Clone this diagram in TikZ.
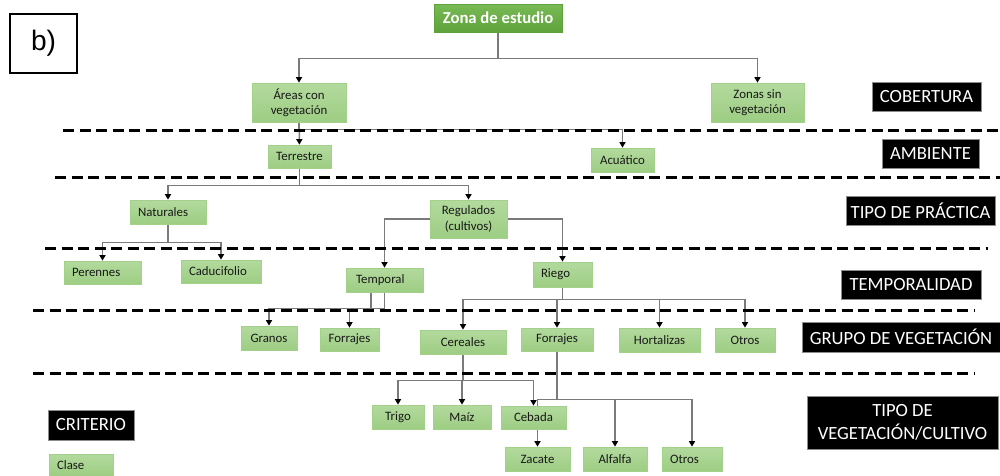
\documentclass[tikz,border=0pt]{standalone}
\usepackage{fontspec}
\setmainfont{Carlito}
\newfontfamily\arialfont{Liberation Sans}
\usepackage{tikz}
\usetikzlibrary{arrows.meta, backgrounds}
\definecolor{clstop}{HTML}{B3DA9E}
\definecolor{clsbot}{HTML}{9DCD83}
\definecolor{clsline}{HTML}{A3D18A}
\definecolor{roottop}{HTML}{78BA55}
\definecolor{rootbot}{HTML}{5EA23B}
\definecolor{connline}{HTML}{7A7A7A}
\tikzset{
    cls/.style={
        rectangle, draw=clsline,
        top color=clstop, bottom color=clsbot,
        text=black!90, inner sep=0pt, align=center,
        font=\fontsize{7.3}{8.8}\selectfont
    },
    lft/.style={
        align=left, inner xsep=1.6mm, text width=#1mm
    },
    root/.style={
        cls, draw=rootbot,
        top color=roottop, bottom color=rootbot,
        text=white, font=\bfseries\fontsize{9.5}{11}\selectfont
    },
    crit/.style={
        rectangle, fill=black, draw=black!45,
        text=white, inner sep=0pt, align=center,
        font=\fontsize{10.6}{13}\selectfont
    },
    sz/.style 2 args={minimum width=#1mm, minimum height=#2mm},
    conn/.style={
        draw=connline, line width=0.3mm,
        -{Triangle[length=1.1mm, width=1.2mm, color=black]},
    },
    level/.style={
        black, line width=0.6mm,
        dash pattern=on 2.2mm off 1.1mm
    },
}
\begin{document}
\begin{tikzpicture}[x=0.2mm, y=-0.2mm]
        \useasboundingbox (0,0) rectangle (1000,475);

        \node[draw=black, line width=0.25mm, fill=white, sz={13.4}{11.8},
            font=\arialfont\fontsize{16}{18}\selectfont] (tag) at (43.5,43.5) {b)};

        \node[root, sz={25.6}{5.6}] (zona) at (498,18) {Zona de estudio};

        \node[cls, sz={18.8}{7.8}] (areas) at (299,102.5) {Áreas con\\vegetación};
        \node[cls, sz={18.6}{7.8}] (sinveg) at (757.5,102.5) {Zonas sin\\vegetación};

        \node[cls, sz={12.6}{4.6}] (terrestre) at (299.5,156.5) {Terrestre};
        \node[cls, sz={12.6}{4.8}] (acuatico) at (622.5,160) {Acuático};

        \node[cls, lft=12, sz={15.2}{4.8}] (naturales) at (168,212) {Naturales};
        \node[cls, sz={15.4}{7.6}] (regulados) at (468.5,219) {Regulados\\(cultivos)};

        \node[cls, lft=12.2, sz={15.4}{4.6}] (perennes) at (102.5,272.5) {Perennes};
        \node[cls, lft=12.8, sz={16}{4.6}] (caducifolio) at (221,271.5) {Caducifolio};
        \node[cls, lft=11.4, inner xsep=2mm, sz={15.4}{4.8}] (temporal) at (384.5,280) {Temporal};
        \node[cls, lft=8.6, sz={11.8}{5}] (riego) at (562.5,274.5) {Riego};

        \node[cls, sz={11.2}{4.8}] (granos) at (269,338) {Granos};
        \node[cls, sz={11.8}{4.6}] (forrajest) at (349.5,339.5) {Forrajes};
        \node[cls, sz={17.2}{4.8}] (cereales) at (463,342) {Cereales};
        \node[cls, sz={14.4}{4.6}] (forrajesr) at (557,339.5) {Forrajes};
        \node[cls, sz={16.2}{4.8}] (hortalizas) at (659.5,340) {Hortalizas};
        \node[cls, sz={12}{4.8}] (otrosg) at (745,340) {Otros};

        \node[cls, sz={10.4}{4.8}] (trigo) at (398,417) {Trigo};
        \node[cls, sz={11.6}{4.8}] (maiz) at (462,417) {Maíz};
        \node[cls, sz={13}{4.6}] (cebada) at (533.5,417.5) {Cebada};
        \node[cls, sz={13}{4.8}] (zacate) at (537.5,459) {Zacate};
        \node[cls, sz={12.8}{4.8}] (alfalfa) at (615,459) {Alfalfa};
        \node[cls, lft=8.8, sz={12}{4.8}] (otrosc) at (692,459) {Otros};

        \node[crit, sz={21.8}{5.8}] (cobertura) at (926.5,97) {COBERTURA};
        \node[crit, sz={19.4}{5.8}] (ambiente) at (930.5,153.5) {AMBIENTE};
        \node[crit, sz={29.8}{5.8}] (practica) at (920.5,210.5) {TIPO DE PRÁCTICA};
        \node[crit, sz={28}{5.8}] (temporalidad) at (911,284.5) {TEMPORALIDAD};
        \node[crit, sz={39.6}{6}] (grupo) at (901,337) {GRUPO DE VEGETACIÓN};
        \node[crit, sz={38.2}{10.6}] (tipo) at (902.5,422.5) {TIPO DE\\VEGETACIÓN/CULTIVO};

        \node[crit, sz={17.2}{6}] (criterio) at (91,425) {CRITERIO};
        \node[cls, lft=9.6, sz={12.8}{4.4}] (clase) at (81,465) {Clase};

        \begin{pgfonlayer}{background}
            \foreach \n in {areas, sinveg}
                \draw[conn] (zona.south) -- ++(0,26) -| (\n);
            \draw[conn] (areas) -- (terrestre);
            \draw[conn] (areas.south) -- ++(0,7) -| (acuatico);

            \foreach \n in {naturales, regulados}
                \draw[conn] (terrestre.south) -- ++(0,17) -| (\n);
            \foreach \n in {perennes, caducifolio}
                \draw[conn] (naturales.south) -- ++(0,18) -| (\n);
            \draw[conn] (regulados.west) -| (temporal);
            \draw[conn] (regulados.east) -| (riego);

            \draw[conn] ([xshift=-2.7mm]temporal.south) -- ++(0,16) -| (granos);
            \draw[conn] (temporal.south) -- ++(0,16) -| (forrajest);
            \foreach \n in {cereales, forrajesr, hortalizas, otrosg}
                \draw[conn] (riego.south) -- ++(0,12) -| (\n);

            \foreach \n in {trigo, maiz, cebada}
                \draw[conn] (cereales.south) -- ++(0,26) -| (\n);
            \foreach \n in {zacate, alfalfa, otrosc}
                \draw[conn] (forrajesr.south) -- ++(0,48) -| (\n);

            \foreach \y/\a/\b in {130/63/1000, 177/55/1000, 248/45/988, 310/33/975, 373/33/975}
                \draw[level] (\a,\y) -- (\b,\y);
        \end{pgfonlayer}
    \end{tikzpicture}
\end{document}
